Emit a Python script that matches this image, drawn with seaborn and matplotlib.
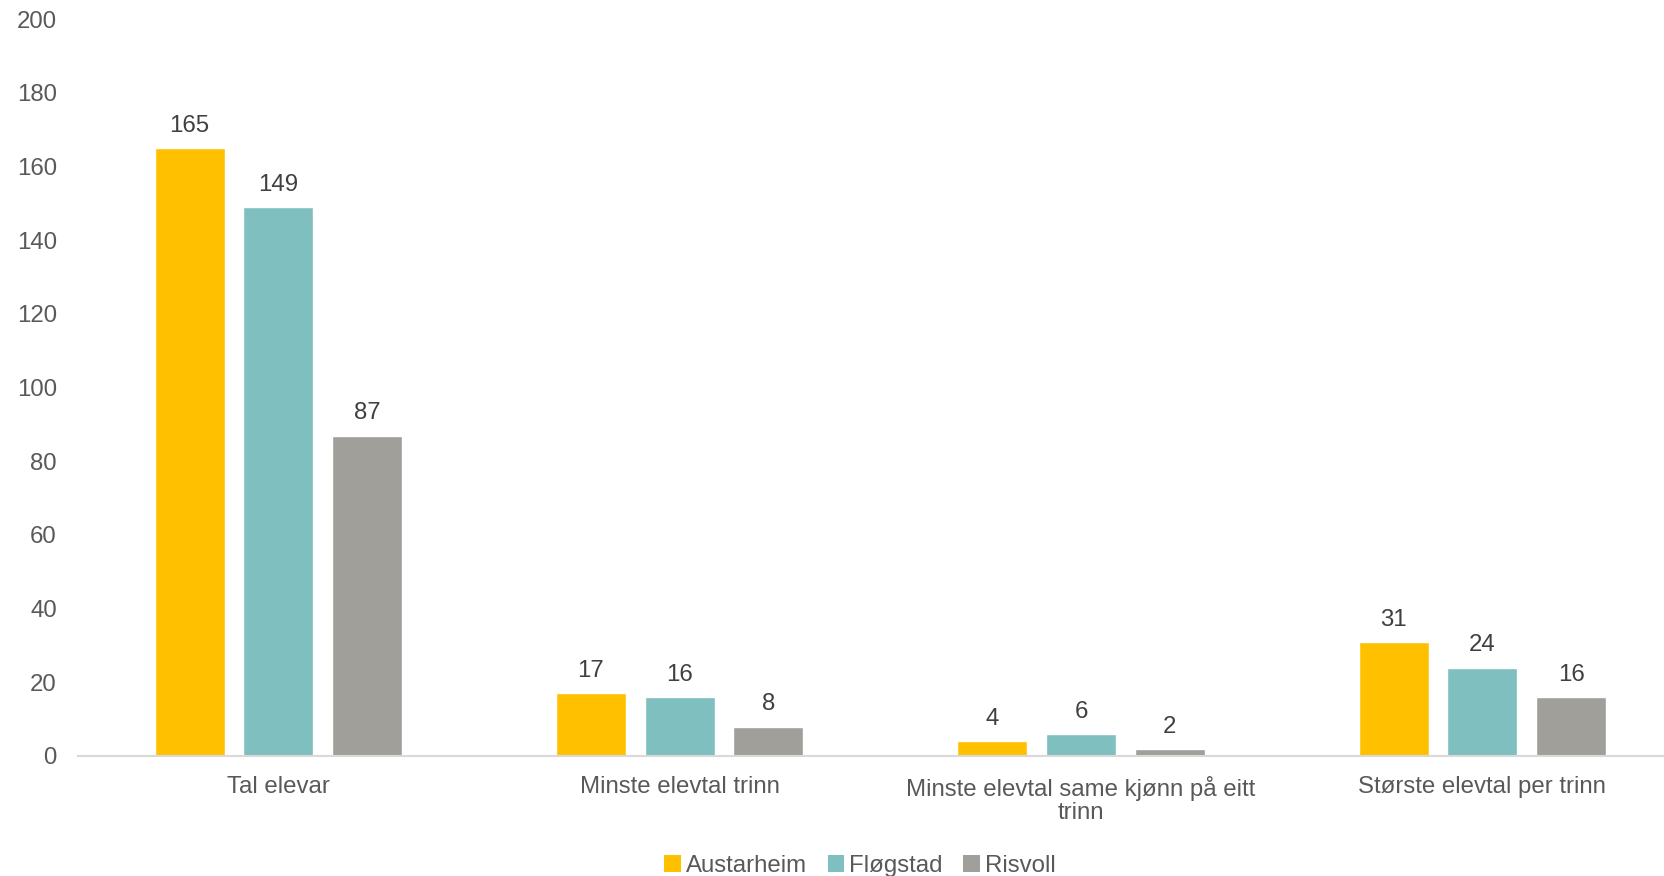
import matplotlib
matplotlib.use("Agg")
import matplotlib.pyplot as plt
import seaborn as sns
import pandas as pd
from matplotlib.patches import Patch

categories = ["Tal elevar", "Minste elevtal trinn",
              "Minste elevtal same kjønn på eitt\ntrinn", "Største elevtal per trinn"]
schools = ["Austarheim", "Fløgstad", "Risvoll"]
austarheim = [165, 17, 4, 31]
flogstad = [149, 16, 6, 24]
risvoll = [87, 8, 2, 16]
colors = ["#FFC000", "#7FBFBF", "#A09F9A"]

rows = []
for s, vals in zip(schools, [austarheim, flogstad, risvoll]):
    for c, v in zip(categories, vals):
        rows.append({"cat": c, "school": s, "val": v})
df = pd.DataFrame(rows)

sns.set_style("white")
plt.rcParams["font.family"] = ["Liberation Sans", "DejaVu Sans"]
FS = 17.3

fig = plt.figure(figsize=(16.65, 8.76), dpi=100)
ax = fig.add_axes([0.0466, 0.137, 1.0108 - 0.0466, 0.978 - 0.137])

sns.barplot(data=df, x="cat", y="val", hue="school", order=categories,
            hue_order=schools, palette=colors, width=0.663, gap=0.21,
            saturation=1, legend=False, ax=ax)

for cont in ax.containers:
    ax.bar_label(cont, padding=8, fontsize=FS, color="#404040")

ax.set_ylim(0, 200)
ax.set_xlim(-0.5, 3.5)
ax.set_yticks(range(0, 201, 20))
ax.tick_params(axis="y", length=0, pad=15, labelsize=FS, labelcolor="#595959")
ax.set_xticks([-0.5, 0.5, 1.5, 2.5, 3.5])
ax.set_xticklabels([])
ax.set_xticks(range(4), minor=True)
ax.set_xticklabels(categories, minor=True, fontsize=FS, color="#595959",
                   linespacing=1.08)
ax.tick_params(axis="x", which="major", length=7, width=1.2, color="#D9D9D9", direction="out")
ax.tick_params(axis="x", which="minor", length=0, pad=14.5)
ax.set_xlabel("")
ax.set_ylabel("")
for sp in ["top", "right", "left"]:
    ax.spines[sp].set_visible(False)
ax.spines["bottom"].set_color("#D9D9D9")
ax.spines["bottom"].set_linewidth(1.5)
ax.grid(False)

handles = [Patch(facecolor=c, edgecolor="none") for c in colors]
fig.legend(handles, schools, loc="center", bbox_to_anchor=(860 / 1665, 1 - 866 / 876),
           ncol=3, frameon=False, fontsize=FS, handlelength=0.7, handleheight=0.7,
           handletextpad=0.2, columnspacing=0.85, labelcolor="#595959", borderpad=0)

fig.savefig("out.png", dpi=100)
